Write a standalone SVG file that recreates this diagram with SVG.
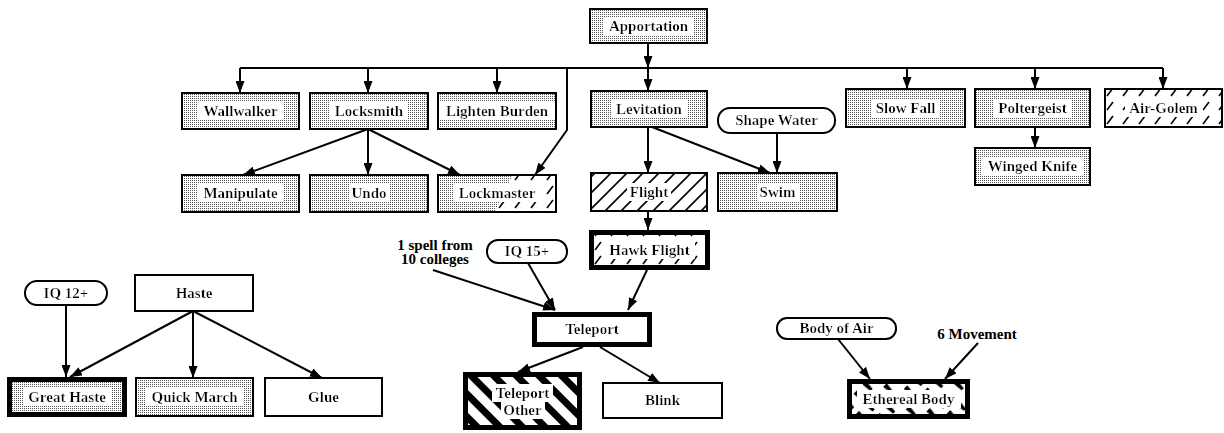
<svg xmlns="http://www.w3.org/2000/svg" width="1224" height="433" viewBox="0 0 1224 433">
<style>
.box{stroke:#000;stroke-width:2}
.thick{stroke:#000;stroke-width:5}
.st{fill:url(#dots)}
.wh{fill:#fff}
text{font-family:"Liberation Serif","Times New Roman",serif;font-size:15px;font-weight:bold;fill:#000;text-anchor:middle;filter:url(#bg)}
.plain{filter:none}
.cn{fill:none;stroke:#000;stroke-width:2;marker-end:url(#ah)}
</style>
<defs>
<filter id="bg" x="-0.06" y="-0.02" width="1.12" height="1.04"><feFlood flood-color="#fff"/><feComposite in="SourceGraphic" operator="over"/></filter>
<marker id="ah" viewBox="0 0 12 9" refX="12" refY="4.5" markerWidth="12" markerHeight="9" markerUnits="userSpaceOnUse" orient="auto"><path d="M0,0 L12,4.5 L0,9 z" fill="#000"/></marker>
<pattern id="dots" width="2" height="2" patternUnits="userSpaceOnUse"><rect width="2" height="2" fill="#fff"/><rect width="1" height="1" fill="#555"/></pattern>
<pattern id="hatch" width="16" height="16" patternUnits="userSpaceOnUse"><rect width="16" height="16" fill="#fff"/><path d="M-2,18 L18,-2 M-10,10 L10,-10 M6,26 L26,6" stroke="#000" stroke-width="1.6"/></pattern>
<pattern id="dhatch" width="16" height="14" patternUnits="userSpaceOnUse"><rect width="16" height="14" fill="#fff"/><path d="M3,12 L9,4" stroke="#000" stroke-width="1.6"/></pattern>
<pattern id="heavy" width="16" height="16" patternUnits="userSpaceOnUse" patternTransform="rotate(-45)"><rect width="16" height="16" fill="#fff"/><rect width="7" height="16" fill="#000"/></pattern>
<pattern id="dheavy" width="13" height="16" patternUnits="userSpaceOnUse" patternTransform="rotate(-45)"><rect width="13" height="16" fill="#fff"/><path d="M0,2 L5,2 L4,12 L1,12 z" fill="#000"/></pattern>
</defs>

<g id="connectors">
<path class="cn" d="M648,43 L648,68"/>
<path d="M240,68 L1163,68" fill="none" stroke="#000" stroke-width="2"/>
<path class="cn" d="M240,68 L240,93"/>
<path class="cn" d="M368,68 L368,93"/>
<path class="cn" d="M497,68 L497,93"/>
<path class="cn" d="M648,68 L648,91"/>
<path class="cn" d="M907,68 L907,89"/>
<path class="cn" d="M1035,68 L1035,89"/>
<path class="cn" d="M1163,68 L1163,89"/>
<path class="cn" d="M567,68 L567,130 L535,175"/>
<path class="cn" d="M1035,127 L1035,148"/>
<path class="cn" d="M368,129 L243,175"/>
<path class="cn" d="M368,129 L368,175"/>
<path class="cn" d="M368,129 L460,175"/>
<path class="cn" d="M648,127 L648,173"/>
<path class="cn" d="M652,127 L770,173"/>
<path class="cn" d="M777,133 L777,173"/>
<path class="cn" d="M648,211 L648,230"/>
<path class="cn" d="M433,270 L555,310"/>
<path class="cn" d="M528,263 L555,310"/>
<path class="cn" d="M647,270 L628,310"/>
<path class="cn" d="M583,347 L518,372"/>
<path class="cn" d="M600,347 L660,383"/>
<path class="cn" d="M66,305 L66,377"/>
<path class="cn" d="M193,311 L70,377"/>
<path class="cn" d="M193,311 L193,378"/>
<path class="cn" d="M193,311 L322,378"/>
<path class="cn" d="M838,339 L870,379"/>
<path class="cn" d="M978,343 L945,379"/>
</g>

<g id="apportation"><rect class="box st" x="590" y="9" width="117" height="34"/><text x="648.5" y="31">Apportation</text></g>
<g id="wallwalker"><rect class="box st" x="182" y="93" width="117" height="36"/><text x="240.5" y="116">Wallwalker</text></g>
<g id="locksmith"><rect class="box st" x="310" y="93" width="118" height="36"/><text x="369" y="116">Locksmith</text></g>
<g id="lighten-burden"><rect class="box st" x="438" y="93" width="118" height="36"/><text x="497" y="116">Lighten Burden</text></g>
<g id="levitation"><rect class="box st" x="591" y="91" width="116" height="36"/><text x="649" y="114">Levitation</text></g>
<g id="shape-water"><rect class="box wh" x="718" y="108" width="117" height="25" rx="12"/><text x="776.5" y="125">Shape Water</text></g>
<g id="slow-fall"><rect class="box st" x="846" y="89" width="119" height="38"/><text x="905.5" y="113">Slow Fall</text></g>
<g id="poltergeist"><rect class="box st" x="975" y="89" width="115" height="38"/><text x="1032.5" y="113">Poltergeist</text></g>
<g id="air-golem"><rect class="box" fill="url(#dhatch)" x="1105" y="89" width="117" height="38"/><text x="1163.5" y="113">Air-Golem</text></g>
<g id="winged-knife"><rect class="box st" x="975" y="148" width="115" height="37"/><text x="1032.5" y="171">Winged Knife</text></g>
<g id="manipulate"><rect class="box st" x="182" y="175" width="117" height="37"/><text x="240.5" y="198">Manipulate</text></g>
<g id="undo"><rect class="box st" x="310" y="175" width="118" height="37"/><text x="369" y="198">Undo</text></g>
<g id="lockmaster"><rect class="box st" x="438" y="175" width="118" height="37"/><polygon points="512,176 555,176 555,211 495,211" fill="url(#dhatch)"/><rect x="438" y="175" width="118" height="37" fill="none" stroke="#000" stroke-width="2"/><text x="497" y="198">Lockmaster</text></g>
<g id="flight"><rect class="box" fill="url(#hatch)" x="591" y="173" width="116" height="38"/><text x="649" y="197">Flight</text></g>
<g id="swim"><rect class="box st" x="718" y="173" width="119" height="38"/><text x="777.5" y="197">Swim</text></g>
<g id="hawk-flight"><rect class="thick" fill="url(#dhatch)" x="591.5" y="232.5" width="116" height="35"/><text x="649.5" y="255">Hawk Flight</text></g>
<g id="one-spell"><text class="plain" x="435" y="250">1 spell from</text><text class="plain" x="435" y="264">10 colleges</text></g>
<g id="iq15"><rect class="box wh" x="487" y="240" width="80" height="23" rx="11"/><text x="527" y="256">IQ 15+</text></g>
<g id="teleport"><rect class="thick wh" x="534.5" y="314.5" width="115" height="30"/><text x="592" y="334">Teleport</text></g>
<g id="teleport-other"><rect class="thick" fill="url(#heavy)" x="465.5" y="374.5" width="114" height="53"/><text x="522.5" y="398">Teleport</text><text x="522.5" y="415">Other</text></g>
<g id="blink"><rect class="box wh" x="603" y="383" width="119" height="35"/><text x="662.5" y="405">Blink</text></g>
<g id="iq12"><rect class="box wh" x="25" y="281" width="82" height="24" rx="12"/><text x="66" y="298">IQ 12+</text></g>
<g id="haste"><rect class="box wh" x="135" y="275" width="118" height="36"/><text x="194" y="298">Haste</text></g>
<g id="great-haste"><rect class="thick st" x="9.5" y="379.5" width="115" height="35"/><text x="67" y="402">Great Haste</text></g>
<g id="quick-march"><rect class="box st" x="136" y="378" width="117" height="38"/><text x="194.5" y="402">Quick March</text></g>
<g id="glue"><rect class="box wh" x="265" y="378" width="117" height="38"/><text x="323.5" y="402">Glue</text></g>
<g id="body-of-air"><rect class="box wh" x="777" y="318" width="119" height="21" rx="10"/><text x="836.5" y="333">Body of Air</text></g>
<g id="six-movement"><text class="plain" x="977" y="339">6 Movement</text></g>
<g id="ethereal-body"><rect class="thick" fill="url(#dheavy)" x="849.5" y="381.5" width="118" height="35"/><text x="908.5" y="404">Ethereal Body</text></g>
</svg>
